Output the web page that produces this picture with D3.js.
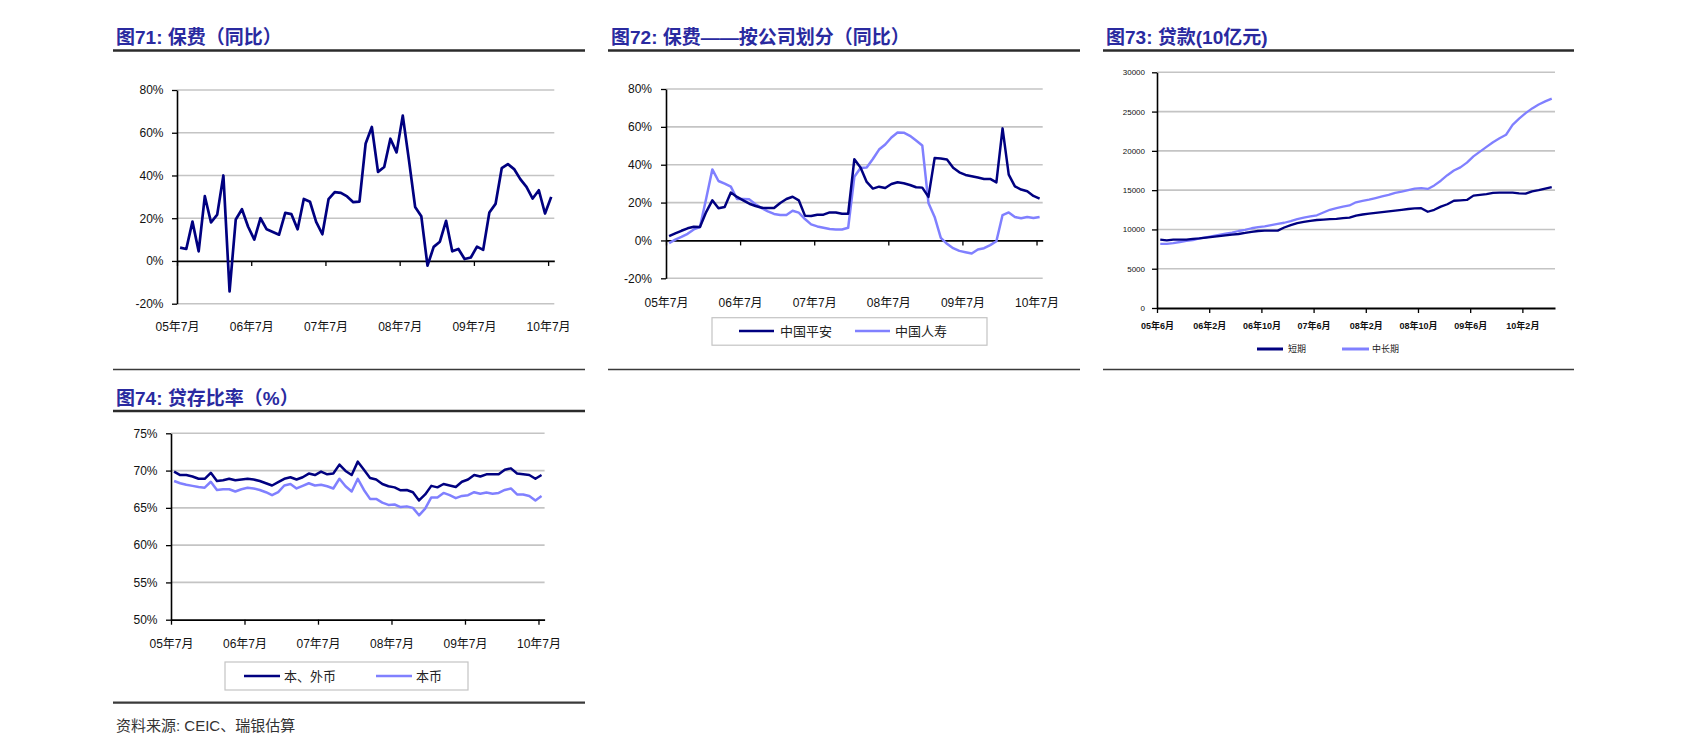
<!DOCTYPE html>
<html><head><meta charset="utf-8">
<script src="https://cdn.jsdelivr.net/npm/d3@7"></script>
<style>body{margin:0;background:#fff}svg{display:block}</style>
</head><body>
<svg id="c" width="1684" height="755"></svg>
<script>
// ---------- DATA ----------
const premiumYoY = [6.25,5.6,18.4,4.5,30.3,18,21.7,40,-14.2,19.4,24.2,16,10,20,14.8,13.6,12.3,22.5,21.9,14.8,29,27.7,18.3,12.5,28.9,32.2,31.9,30.2,27.5,27.8,55,62.7,41.7,44,57.2,50.8,68,47.2,25.3,20.9,-2.2,6.6,9,18.8,4.5,5.6,0.9,1.6,6.7,5.2,22.7,26.7,43.4,45.3,43,38.3,34.7,29.2,33.1,22.2,30];
const pingAn = [2.3,3.7,5.1,6.4,7.2,7.1,15,21.2,17,17.7,25.3,23,21.2,19.4,18.2,17.3,17.1,17.1,19.8,21.9,23.1,21.2,13.1,12.9,13.6,13.6,14.8,14.8,14.1,14.1,42.9,38.5,30.9,27.4,28.4,27.7,29.8,30.7,30.2,29.3,28.1,27.9,23,43.5,43.3,42.8,38.4,36,34.6,33.9,33.2,32.5,32.5,30.7,59.2,34.8,28.6,26.9,26,23.5,22.1];
const chinaLife = [-1.4,0.4,1.9,3.5,5.8,7.1,22,37.5,31.4,30,28.4,21.9,21.9,21.7,19.1,17.1,15.4,14,13.4,13.4,15.7,14.7,11.3,8.5,7.4,6.7,6,5.8,5.8,6.7,33.6,38.3,38.5,43,48,50.7,54.4,57,56.9,55.3,52.8,50.2,19.8,12.4,1.4,-1.8,-4.1,-5.5,-6.2,-6.9,-4.8,-4.1,-2.5,-0.4,13.4,14.8,12.4,11.7,12.4,11.8,12.4];
const shortLoans = [8700,8600,8700,8700,8700,8800,8850,8950,9050,9150,9250,9330,9420,9550,9700,9800,9840,9840,9850,10250,10550,10800,10950,11100,11200,11250,11300,11350,11450,11500,11750,11900,12000,12100,12200,12300,12400,12500,12600,12680,12700,12250,12500,12900,13200,13650,13700,13750,14300,14400,14500,14650,14680,14680,14680,14600,14550,14850,15000,15200,15400];
const midLongLoans = [8150,8150,8250,8400,8550,8650,8850,9000,9150,9300,9450,9600,9800,9950,10150,10300,10400,10550,10700,10850,11050,11300,11500,11650,11800,12150,12500,12700,12900,13050,13450,13650,13800,14000,14200,14400,14650,14800,15000,15200,15250,15150,15600,16200,16900,17500,17900,18500,19300,19900,20500,21100,21600,22050,23300,24100,24800,25400,25900,26300,26650];
const ldrAll = [69.86,69.4,69.4,69.2,68.9,68.9,69.7,68.6,68.7,68.9,68.7,68.8,68.9,68.8,68.6,68.3,68,68.45,68.9,69.1,68.8,69.1,69.6,69.4,69.86,69.5,69.6,70.8,69.95,69.4,71.2,70.1,69,68.8,68.2,67.9,67.75,67.35,67.4,67.1,66,66.8,67.95,67.75,68.2,68,67.8,68.5,68.8,69.4,69.2,69.5,69.5,69.5,70.1,70.3,69.6,69.5,69.4,68.9,69.4];
const ldrLocal = [68.6,68.3,68.1,67.95,67.8,67.7,68.5,67.4,67.5,67.5,67.2,67.5,67.7,67.6,67.4,67.1,66.7,67.1,68,68.2,67.6,67.95,68.3,68,68.1,67.9,67.6,68.9,67.9,67.2,68.9,67.4,66.2,66.2,65.7,65.4,65.45,65.1,65.2,65,64,64.9,66.4,66.4,67,66.7,66.3,66.6,66.7,67.1,66.9,67.05,66.9,67,67.4,67.6,66.8,66.8,66.6,66,66.6];

const yearTickLabels = ["05年7月","06年7月","07年7月","08年7月","09年7月","10年7月"];
const yearTickIdx = [0,12,24,36,48,60];
const loanTickLabels = ["05年6月","06年2月","06年10月","07年6月","08年2月","08年10月","09年6月","10年2月"];
const loanTickIdx = [0,8,16,24,32,40,48,56];
const pctTicks1 = [-20,0,20,40,60,80];
const loanTicks = [0,5000,10000,15000,20000,25000,30000];
const ldrTicks = [50,55,60,65,70,75];

const titles = ["图71: 保费（同比）","图72: 保费——按公司划分（同比）","图73: 贷款(10亿元)","图74: 贷存比率（%）"];
const legend72 = ["中国平安","中国人寿"];
const legend73 = ["短期","中长期"];
const legend74 = ["本、外币","本币"];
const sourceText = "资料来源: CEIC、瑞银估算";

// ---------- DRAW ----------
const DARK = "#000080", LIGHT = "#8080ff";
const FONT = "'Liberation Sans', Arial, 'Noto Sans CJK SC', sans-serif";
const svg = d3.select("#c");
svg.append("rect").attr("width",1684).attr("height",755).attr("fill","#fff");

function chart(cfg){
  const g = svg.append("g");
  const x = d3.scaleLinear().domain([0, cfg.n]).range([cfg.x0, cfg.x1]);
  const y = d3.scaleLinear().domain(cfg.yDomain).range([cfg.yBot, cfg.yTop]);
  // gridlines
  g.append("g").selectAll("line").data(cfg.yTicks.filter(d => d !== cfg.xAxisAt)).join("line")
    .attr("x1", cfg.x0).attr("x2", cfg.x1).attr("y1", d => y(d)).attr("y2", d => y(d))
    .attr("stroke", "#c4c4c4").attr("stroke-width", 1.6);
  // y axis
  const ya = g.append("g").attr("transform", `translate(${cfg.x0},0)`)
    .call(d3.axisLeft(y).tickValues(cfg.yTicks).tickSize(5).tickSizeOuter(0).tickPadding(cfg.yPad).tickFormat(cfg.yFmt));
  ya.attr("font-family", FONT).attr("font-size", cfg.fs);
  ya.select(".domain").attr("stroke", "#000").attr("stroke-width", 1.6);
  ya.selectAll(".tick line").attr("stroke", "#000").attr("stroke-width", 1.3);
  ya.selectAll("text").attr("fill", "#111");
  // x axis (ticks at category boundaries)
  const xa = g.append("g").attr("transform", `translate(0,${y(cfg.xAxisAt)})`)
    .call(d3.axisBottom(x).tickValues(cfg.xTickIdx).tickSize(5).tickSizeOuter(0).tickFormat(""));
  xa.select(".domain").attr("stroke", "#000").attr("stroke-width", 1.8);
  xa.selectAll(".tick line").attr("stroke", "#000").attr("stroke-width", 1.3);
  // x labels
  const xl = g.append("g").attr("transform", `translate(0,${cfg.yBot})`)
    .call(d3.axisBottom(x).tickValues(cfg.xTickIdx).tickSize(0).tickFormat((d, i) => cfg.xLabels[i]));
  xl.select(".domain").remove();
  xl.attr("font-family", FONT).attr("font-size", cfg.xfs || cfg.fs).attr("font-weight", cfg.xfw || "normal");
  xl.selectAll("text").attr("y", cfg.labelOff).attr("dy", "0.35em").attr("fill", "#111");
  // series
  const line = d3.line().x((d, i) => x(i + 0.5)).y(d => y(d)).curve(d3.curveLinear);
  cfg.series.forEach(s => {
    g.append("path").datum(s.values).attr("d", line).attr("fill", "none")
      .attr("stroke", s.color).attr("stroke-width", cfg.lw).attr("stroke-linejoin", "round");
  });
  return {x, y};
}

function titleBlock(text, x, y, lx0, lx1, ly){
  svg.append("text").attr("x", x).attr("y", y).text(text)
    .attr("font-family", FONT).attr("font-size", 19).attr("font-weight", "bold").attr("fill", "#2a2aa0");
  svg.append("line").attr("x1", lx0).attr("x2", lx1).attr("y1", ly).attr("y2", ly)
    .attr("stroke", "#2b2b2b").attr("stroke-width", 2.6);
}
function rule(x0, x1, y, w){
  svg.append("line").attr("x1", x0).attr("x2", x1).attr("y1", y).attr("y2", y)
    .attr("stroke", "#3a3a3a").attr("stroke-width", w);
}
function legend(items, box, y, fs, lw){
  if (box) svg.append("rect").attr("x", box[0]).attr("y", box[1]).attr("width", box[2]).attr("height", box[3])
    .attr("fill", "#fff").attr("stroke", "#c4c4c4").attr("stroke-width", 1.2);
  items.forEach(it => {
    svg.append("line").attr("x1", it.l0).attr("x2", it.l1).attr("y1", y).attr("y2", y)
      .attr("stroke", it.color).attr("stroke-width", lw);
    svg.append("text").attr("x", it.tx).attr("y", y).attr("dy", "0.36em").text(it.label)
      .attr("font-family", FONT).attr("font-size", fs).attr("fill", "#222");
  });
}

const pctFmt = d => d + "%";

// Chart 71
titleBlock(titles[0], 116, 44, 113, 585, 50.5);
chart({x0:177, x1:554.3, yTop:90, yBot:303.7, yDomain:[-20,80], yTicks:pctTicks1, yFmt:pctFmt, yPad:8.5,
  n:premiumYoY.length, xTickIdx:yearTickIdx, xLabels:yearTickLabels, xAxisAt:0, fs:12, labelOff:23, lw:2.7,
  series:[{values:premiumYoY, color:DARK}]});
rule(113, 585, 369.5, 1.5);

// Chart 72
titleBlock(titles[1], 611, 44, 608, 1080, 50.5);
chart({x0:666, x1:1042.7, yTop:89, yBot:278.3, yDomain:[-20,80], yTicks:pctTicks1, yFmt:pctFmt, yPad:9,
  n:pingAn.length, xTickIdx:yearTickIdx, xLabels:yearTickLabels, xAxisAt:0, fs:12, labelOff:24.4, lw:2.5,
  series:[{values:chinaLife, color:LIGHT},{values:pingAn, color:DARK}]});
legend([{l0:739,l1:774,tx:780,label:legend72[0],color:DARK},{l0:855,l1:890,tx:895,label:legend72[1],color:LIGHT}],
  [712,317.7,275,27.5], 331, 13, 2.6);
rule(608, 1080, 369.5, 1.5);

// Chart 73
titleBlock(titles[2], 1106, 44, 1103, 1574, 50.5);
chart({x0:1157, x1:1555, yTop:72.3, yBot:308, yDomain:[0,30000], yTicks:loanTicks, yFmt:d => d, yPad:7,
  n:shortLoans.length, xTickIdx:loanTickIdx, xLabels:loanTickLabels, xAxisAt:0, fs:8, xfs:9, xfw:"bold", labelOff:17.5, lw:2.3,
  series:[{values:midLongLoans, color:LIGHT},{values:shortLoans, color:DARK}]});
legend([{l0:1257,l1:1283,tx:1288,label:legend73[0],color:DARK},{l0:1342,l1:1369,tx:1372,label:legend73[1],color:LIGHT}],
  null, 349, 9, 3);
rule(1103, 1574, 369.5, 1.5);

// Chart 74
titleBlock(titles[3], 116, 405, 113, 585, 411);
chart({x0:171, x1:544.6, yTop:433.3, yBot:619.7, yDomain:[50,75], yTicks:ldrTicks, yFmt:pctFmt, yPad:8.5,
  n:ldrAll.length, xTickIdx:yearTickIdx, xLabels:yearTickLabels, xAxisAt:50, fs:12, labelOff:24.3, lw:2.5,
  series:[{values:ldrLocal, color:LIGHT},{values:ldrAll, color:DARK}]});
legend([{l0:244,l1:280,tx:284,label:legend74[0],color:DARK},{l0:376,l1:412,tx:416,label:legend74[1],color:LIGHT}],
  [225,662,243,28], 676, 13, 2.6);
rule(113, 585, 702.7, 2.2);

svg.append("text").attr("x", 116).attr("y", 726).attr("dy", "0.36em").text(sourceText)
  .attr("font-family", FONT).attr("font-size", 15).attr("fill", "#333");
</script>
</body></html>
